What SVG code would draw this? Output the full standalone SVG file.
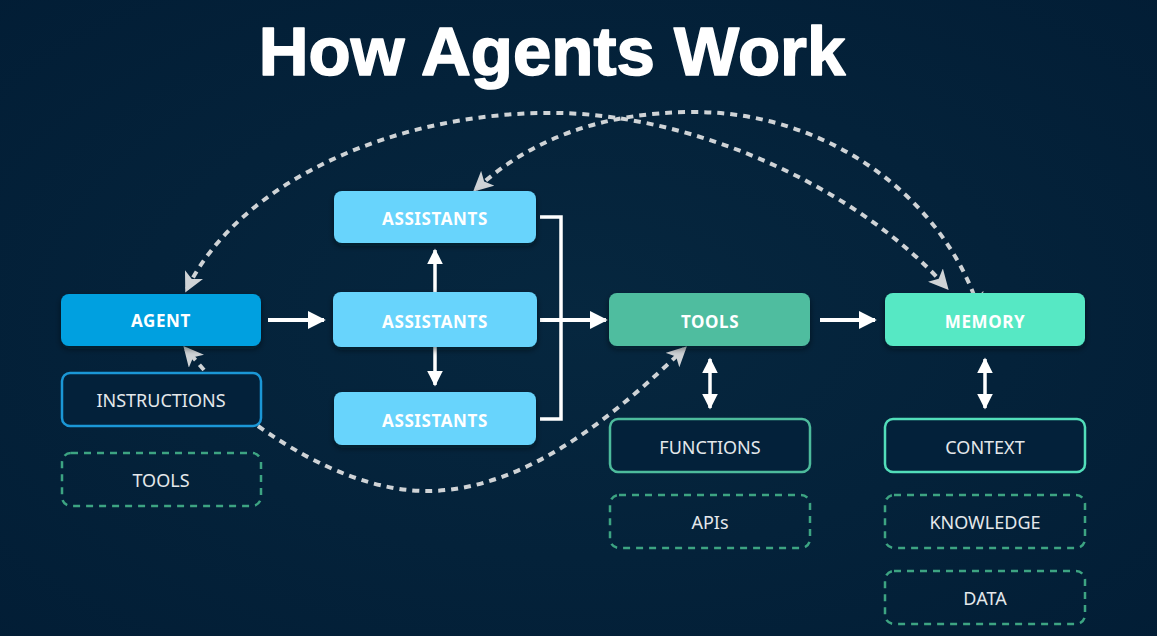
<svg xmlns="http://www.w3.org/2000/svg" width="1157" height="636" viewBox="0 0 1157 636">
  <defs>
    <radialGradient id="bg" cx="0.5" cy="0.5" r="0.75">
      <stop offset="0" stop-color="#06273f"/>
      <stop offset="1" stop-color="#021d35"/>
    </radialGradient>
    <marker id="wa" viewBox="0 0 10 10" refX="9" refY="5" markerWidth="4.5" markerHeight="4.5" markerUnits="strokeWidth" orient="auto-start-reverse">
      <path d="M0,0 L10,5 L0,10 z" fill="#ffffff"/>
    </marker>
    <marker id="ga" viewBox="0 0 10 10" refX="8" refY="5" markerWidth="5" markerHeight="5" markerUnits="strokeWidth" orient="auto-start-reverse">
      <path d="M0,0 L10,5 L0,10 L2.5,5 z" fill="#cfd3d6"/>
    </marker>
    <filter id="sh" x="-10%" y="-20%" width="120%" height="150%">
      <feDropShadow dx="0" dy="3" stdDeviation="3" flood-color="#000814" flood-opacity="0.5"/>
    </filter>
  </defs>
  <style>
    .title { font-family: "Liberation Sans", Arial, sans-serif; font-weight: 700; font-size: 69px; fill: #ffffff; stroke: #ffffff; stroke-width: 1.6; stroke-linejoin: round; }
    .solid { filter: url(#sh); }
    .lbl { font-family: "Noto Sans", "DejaVu Sans", sans-serif; font-weight: 700; font-size: 17px; letter-spacing: 0.6px; fill: #ffffff; text-anchor: middle; dominant-baseline: central; }
    .olbl { font-family: "Noto Sans", "DejaVu Sans", sans-serif; font-weight: 400; font-size: 18px; fill: #e4e8eb; text-anchor: middle; dominant-baseline: central; }
    .dashbox { fill: none; stroke: #3da482; stroke-width: 2.5; stroke-dasharray: 7 6; }
    .wline { fill: none; stroke: #ffffff; stroke-width: 4; }
    .bline { fill: none; stroke: #ffffff; stroke-width: 3.5; }
    .gline { fill: none; stroke: #cfd3d6; stroke-width: 4; stroke-dasharray: 7 6; }
  </style>
  <rect x="0" y="0" width="1157" height="636" fill="url(#bg)"/>

  <text class="title" x="552" y="75" text-anchor="middle">How Agents Work</text>

  <g id="connectors">
    <line class="wline" x1="268" y1="320" x2="324" y2="320" marker-end="url(#wa)"/>
    <line class="bline" x1="435" y1="292" x2="435" y2="250" marker-end="url(#wa)"/>
    <line class="bline" x1="435" y1="347" x2="435" y2="385" marker-end="url(#wa)"/>
    <polyline class="bline" points="540,217 561,217 561,419 540,419"/>
    <line class="wline" x1="540" y1="320" x2="606" y2="320" marker-end="url(#wa)"/>
    <line class="wline" x1="820" y1="320" x2="875" y2="320" marker-end="url(#wa)"/>
    <line class="bline" x1="710" y1="359" x2="710" y2="408" marker-start="url(#wa)" marker-end="url(#wa)"/>
    <line class="bline" x1="985" y1="359" x2="985" y2="408" marker-start="url(#wa)" marker-end="url(#wa)"/>
    <path class="gline" d="M 187 289 C 240 180 400 110 560 113 C 700 116 860 190 946 287" marker-start="url(#ga)" marker-end="url(#ga)"/>
    <path class="gline" d="M 476 189 C 530 140 600 112 695 112 C 820 112 940 190 979 309" marker-start="url(#ga)" marker-end="url(#ga)"/>
    <path class="gline" d="M 204 370 L 186 349" marker-end="url(#ga)"/>
    <path class="gline" d="M 258 426 C 320 470 380 492 430 491 C 530 489 620 410 684 349" marker-end="url(#ga)"/>
  </g>

  <g id="agent">
    <rect class="solid" x="61" y="294" width="200" height="52" rx="8" fill="#05a0e0"/>
    <text class="lbl" x="161" y="320">AGENT</text>
  </g>
  <g id="instructions">
    <rect x="62" y="373" width="199" height="53" rx="8" fill="#03213a" stroke="#1b97d6" stroke-width="2.5"/>
    <text class="olbl" x="161" y="400">INSTRUCTIONS</text>
  </g>
  <g id="agent-tools">
    <rect class="dashbox" x="62" y="453" width="199" height="53" rx="9"/>
    <text class="olbl" x="161" y="480">TOOLS</text>
  </g>

  <g id="assistants-top">
    <rect class="solid" x="334" y="191" width="202" height="52" rx="8" fill="#67d4fc"/>
    <text class="lbl" x="435" y="218">ASSISTANTS</text>
  </g>
  <g id="assistants-mid">
    <rect class="solid" x="333" y="292" width="204" height="55" rx="8" fill="#67d4fc"/>
    <text class="lbl" x="435" y="321">ASSISTANTS</text>
  </g>
  <g id="assistants-bottom">
    <rect class="solid" x="334" y="392" width="202" height="53" rx="8" fill="#67d4fc"/>
    <text class="lbl" x="435" y="420">ASSISTANTS</text>
  </g>

  <g id="tools">
    <rect class="solid" x="609" y="293" width="201" height="53" rx="8" fill="#50bd9f"/>
    <text class="lbl" x="710" y="321">TOOLS</text>
  </g>
  <g id="functions">
    <rect x="610" y="419" width="200" height="53" rx="8" fill="#03213a" stroke="#4dbb9c" stroke-width="2.5"/>
    <text class="olbl" x="710" y="447">FUNCTIONS</text>
  </g>
  <g id="apis">
    <rect class="dashbox" x="610" y="495" width="200" height="53" rx="9"/>
    <text class="olbl" x="710" y="522">APIs</text>
  </g>

  <g id="memory">
    <rect class="solid" x="885" y="293" width="200" height="53" rx="8" fill="#56e8c4"/>
    <text class="lbl" x="985" y="321">MEMORY</text>
  </g>
  <g id="context">
    <rect x="885" y="419" width="200" height="53" rx="8" fill="#03213a" stroke="#52deba" stroke-width="2.5"/>
    <text class="olbl" x="985" y="447">CONTEXT</text>
  </g>
  <g id="knowledge">
    <rect class="dashbox" x="885" y="495" width="200" height="53" rx="9"/>
    <text class="olbl" x="985" y="522">KNOWLEDGE</text>
  </g>
  <g id="data">
    <rect class="dashbox" x="885" y="571" width="200" height="53" rx="9"/>
    <text class="olbl" x="985" y="598">DATA</text>
  </g>
</svg>
